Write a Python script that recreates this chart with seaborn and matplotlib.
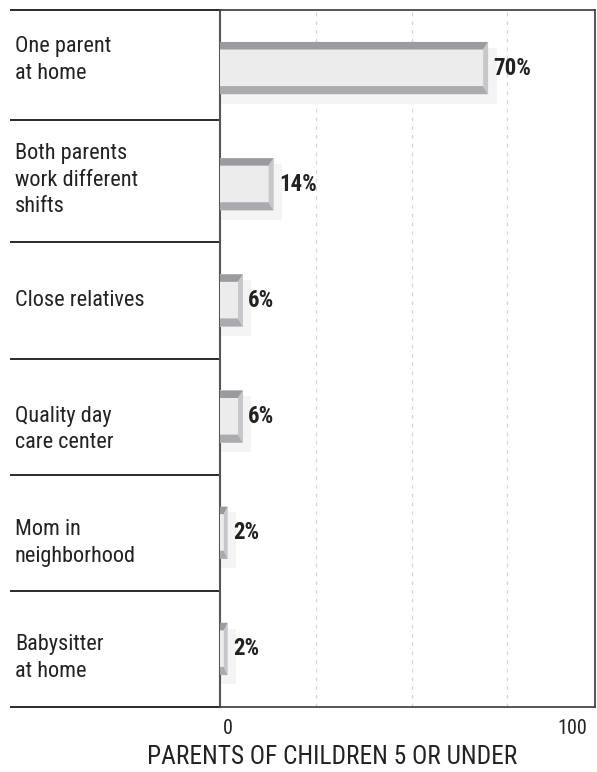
import matplotlib
matplotlib.use("Agg")
import matplotlib.pyplot as plt
from matplotlib.patches import Polygon, Rectangle
import seaborn as sns
import pandas as pd

categories = ["One parent\nat home", "Both parents\nwork different\nshifts", "Close relatives",
              "Quality day\ncare center", "Mom in\nneighborhood", "Babysitter\nat home"]
values = [70, 14, 6, 6, 2, 2]
value_labels = ["70%", "14%", "6%", "6%", "2%", "2%"]
axis_labels = ["0", "100"]
xlabel = "PARENTS OF CHILDREN 5 OR UNDER"

# layout: vertical nudge of each category label (in row units)
label_nudge = [-0.07, -0.035, 0.005, 0.11, 0.09, 0.08]

sns.set_theme(style="white")
FONT = ["Roboto Condensed", "Archivo Narrow", "Liberation Sans", "DejaVu Sans"]
plt.rcParams["font.family"] = FONT

df = pd.DataFrame({"cat": categories, "val": values})

fig = plt.figure(figsize=(5.97, 7.72), dpi=100)
ax = fig.add_axes([220 / 597, 65 / 772, 375 / 597, 697 / 772])

sns.barplot(data=df, x="val", y="cat", orient="h", width=0.45, color="#ececec",
            saturation=1, ax=ax, zorder=3, linewidth=0)

ax.set_xlim(0, 97.9)
ax.set_ylim(5.5, -0.5)

# grid
for g in [25, 50, 75]:
    ax.axvline(g, color="#d6d6d6", lw=0.9, ls=(0, (3, 4)), zorder=1)

# bevels
t, b, r = 0.065, 0.07, 1.3
for bar, lab in zip(ax.patches, value_labels):
    x0 = bar.get_x()
    x1 = x0 + bar.get_width()
    yt = bar.get_y()
    yb = yt + bar.get_height()
    rr = min(r, (x1 - x0) * 0.5)
    ax.add_patch(Rectangle((x0, yt + 0.05), (x1 - x0) + 2.2, (yb - yt) + 0.03,
                           facecolor="#f4f4f4", edgecolor="none", zorder=2))
    ax.add_patch(Polygon([(x0, yt), (x1, yt), (x1 - rr, yt + t), (x0, yt + t)],
                         closed=True, facecolor="#9a9b9f", edgecolor="none", zorder=4))
    ax.add_patch(Polygon([(x0, yb), (x1, yb), (x1 - rr, yb - b), (x0, yb - b)],
                         closed=True, facecolor="#aaabaf", edgecolor="none", zorder=4))
    ax.add_patch(Polygon([(x1, yt), (x1, yb), (x1 - rr, yb - b), (x1 - rr, yt + t)],
                         closed=True, facecolor="#c6c7ca", edgecolor="none", zorder=4))
    ax.text(x1 + 1.4, (yt + yb) / 2, lab, ha="left", va="center", fontsize=16.5,
            fontweight="bold", color="#222222", family=FONT, zorder=5)

# axes frame
for s in ax.spines.values():
    s.set_visible(True)
    s.set_color("#3a3a3a")
    s.set_linewidth(1.2)
ax.spines["left"].set_color("#555555")
ax.spines["left"].set_linewidth(1.5)

ax.set_xticks([])
ax.set_yticks([])
ax.set_xlabel("")
ax.set_ylabel("")

# left label panel
ytr = ax.get_yaxis_transform()
x_left = (10 - 220) / 375
for yy in [-0.5, 0.45, 1.5, 2.5, 3.5, 4.5, 5.5]:
    ax.plot([x_left, 0], [yy, yy], transform=ytr, color="#2a2a2a", lw=1.4,
            clip_on=False, solid_capstyle="butt")
for i, (c, dy) in enumerate(zip(categories, label_nudge)):
    ax.text(x_left + 5 / 375, i + dy, c, transform=ytr, ha="left", va="center",
            fontsize=16, color="#222222", linespacing=1.35, family=FONT)

# axis value labels
ax.text(3 / 375, -0.017, axis_labels[0], transform=ax.transAxes, ha="left", va="top",
        fontsize=14.5, color="#222222", family=FONT)
ax.text(1 - 8 / 375, -0.017, axis_labels[1], transform=ax.transAxes, ha="right", va="top",
        fontsize=14.5, color="#222222", family=FONT)

fig.text(332 / 597, 1 - 757 / 772, xlabel, ha="center", va="center", fontsize=18.3,
         color="#222222", family=FONT)

fig.savefig("out.png", dpi=100, facecolor="white")
